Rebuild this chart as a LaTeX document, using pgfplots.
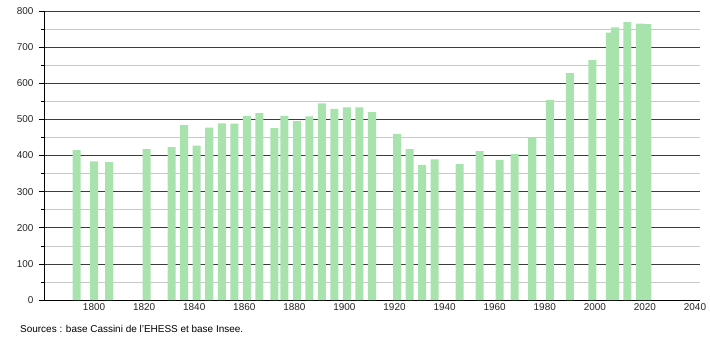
\documentclass[border=0pt]{standalone}
\usepackage{pgfplots}
\pgfplotsset{compat=1.18}
\usepackage{fontspec}
\setmainfont{Liberation Sans}
\definecolor{barg}{RGB}{168,226,172}
\definecolor{majg}{RGB}{60,60,60}
\definecolor{ming}{RGB}{200,200,200}
\begin{document}
\begin{tikzpicture}
\useasboundingbox (-44bp,-40bp) rectangle (666bp,300bp);
\begin{axis}[
  at={(0,0)}, anchor=south west,
  scale only axis, width=656bp, height=289bp,
  xmin=1780, xmax=2042, ymin=0, ymax=800,
  axis x line*=bottom, axis y line*=left,
  axis line style={black, line width=0.8pt},
  xtick={1800,1820,...,2040},
  ytick={0,100,...,800},
  minor ytick={50,150,...,750},
  x tick label style={/pgf/number format/1000 sep={}},
  /pgf/number format/assume math mode=true,
  tick label style={font=\fontsize{10}{11}\selectfont, color=black!85},
  xtick style={draw=none},
  ytick style={black, line width=0.6pt},
  major tick length=5bp, minor tick length=3bp,
  ymajorgrids, yminorgrids,
  major grid style={majg, line width=0.6pt},
  minor grid style={ming, line width=0.6pt},
  ytick align=outside,
  xticklabel style={yshift=-0.5bp},
  yticklabel style={xshift=-2bp},
  clip=false,
]
\addplot[ybar, bar width=3.2, fill=barg, draw=none] coordinates {
(1793,415) (1800,384) (1806,382) (1821,418) (1831,423) (1836,484)
(1841,427) (1846,477) (1851,489) (1856,488) (1861,510) (1866,517)
(1872,476) (1876,510) (1881,495) (1886,508) (1891,544) (1896,529)
(1901,533) (1906,533) (1911,520) (1921,460) (1926,418) (1931,374)
(1936,389) (1946,376) (1954,412) (1962,388) (1968,404) (1975,450)
(1982,554) (1990,628) (1999,664) (2006,740) (2008,755) (2013,769)
(2018,765) (2019,764) (2020,763) (2021,764)
};
\node[anchor=base west, font=\fontsize{10}{11}\selectfont, inner sep=0pt] at (axis cs:1780,0) [xshift=-24bp, yshift=-32bp] {Sources : base Cassini de l'EHESS et base Insee.};
\end{axis}
\end{tikzpicture}
\end{document}
